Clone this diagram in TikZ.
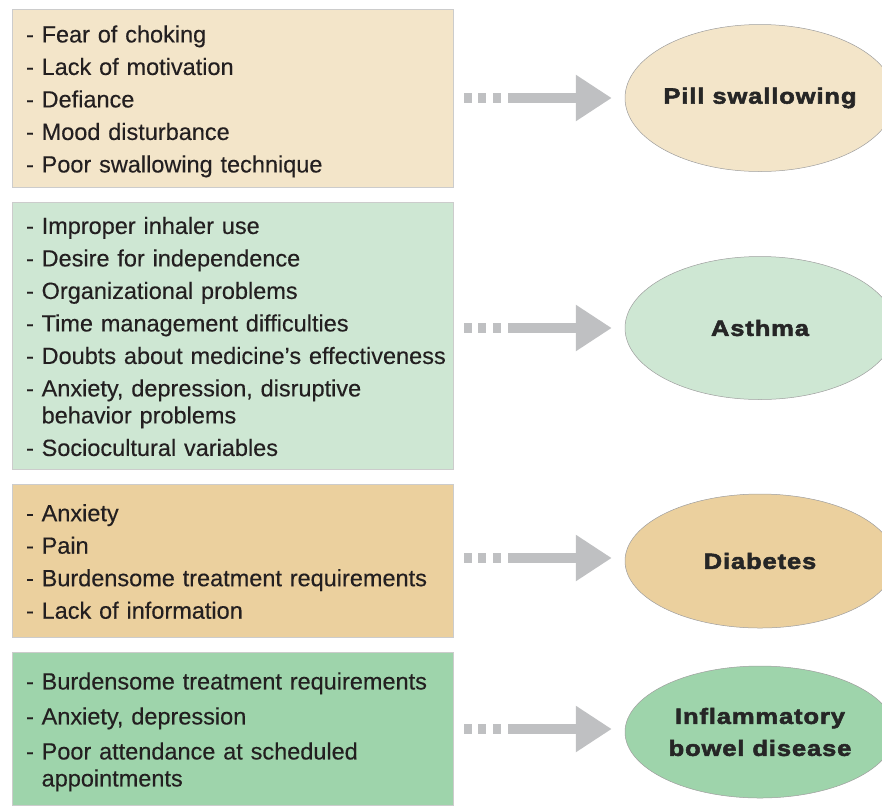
\documentclass[tikz,border=0pt]{standalone}
\usepackage{fontspec}
\setmainfont{Liberation Sans}[FakeBold=0.3]
\newfontfamily\heavyfont{Liberation Sans Bold}[FakeBold=2.4,FakeStretch=1.16,LetterSpace=4]
\usetikzlibrary{arrows.meta,shapes.geometric}

\definecolor{pillfill}{HTML}{F3E5C9}
\definecolor{asthmafill}{HTML}{CEE7D3}
\definecolor{diabfill}{HTML}{EBD09E}
\definecolor{ibdfill}{HTML}{9ED4AB}
\definecolor{arrowgrey}{HTML}{BFC0C2}
\definecolor{inktext}{HTML}{231F20}

% list of causes, one row per line
\newcommand{\causelist}[1]{\begin{tabular}{@{}l@{}}\rule{0pt}{27pt}#1\end{tabular}}

\begin{document}
\begin{tikzpicture}[x=1pt,y=-1pt]
  \tikzstyle{causebox}=[draw=black!20,line width=0.6pt,text=inktext,minimum width=441pt,text width=413pt,inner xsep=14pt,align=left,font=\fontsize{23.5}{27}\selectfont]
  \tikzstyle{illness}=[draw=black!38,line width=0.5pt,text=black!85,ellipse,minimum width=270pt,inner xsep=-40pt,inner ysep=0pt,align=center,font=\heavyfont\fontsize{22}{32}\selectfont]
  \tikzstyle{flow}=[draw=arrowgrey,line width=10pt,-{Triangle[length=36pt,width=44pt]},dash pattern=on 8pt off 6pt on 8pt off 7pt on 8pt off 7pt on 400pt,shorten <=11pt,shorten >=13pt]

  \useasboundingbox (0,0) rectangle (882,807);

  \node[causebox,fill=pillfill,minimum height=178pt] (B1) at (232.5,98)
    {\causelist{- Fear of choking\\[5.5pt] - Lack of motivation\\[5.5pt] - Defiance\\[5.5pt] - Mood disturbance\\[5.5pt] - Poor swallowing technique}};
  \node[causebox,fill=asthmafill,minimum height=267pt] (B2) at (232.5,335.5)
    {\causelist{- Improper inhaler use\\[5.5pt] - Desire for independence\\[5.5pt] - Organizational problems\\[5.5pt] - Time management difficulties\\[5.5pt] - Doubts about medicine’s effectiveness\\[5.5pt] - Anxiety, depression, disruptive\\ \hphantom{- }behavior problems\\[5.5pt] - Sociocultural variables}};
  \node[causebox,fill=diabfill,minimum height=153pt] (B3) at (232.5,560.5)
    {\causelist{- Anxiety\\[5.5pt] - Pain\\[5.5pt] - Burdensome treatment requirements\\[5.5pt] - Lack of information}};
  \node[causebox,fill=ibdfill,minimum height=153pt] (B4) at (232.5,728.5)
    {\causelist{- Burdensome treatment requirements\\[8pt] - Anxiety, depression\\[8pt] - Poor attendance at scheduled\\ \hphantom{- }appointments}};

  \node[illness,fill=pillfill,minimum height=147pt] (D1) at (760,98) {Pill swallowing};
  \node[illness,fill=asthmafill,minimum height=143pt] (D2) at (760,328) {Asthma};
  \node[illness,fill=diabfill,minimum height=134pt] (D3) at (760,561) {Diabetes};
  \node[illness,fill=ibdfill,minimum height=132pt] (D4) at (760,732) {Inflammatory\\bowel disease};

  \path (B1.east |- D1) edge[flow] (D1);
  \path (B2.east |- D2) edge[flow] (D2);
  \path (B3.east |- 0,558) edge[flow] (D3.west |- 0,558);
  \path (B4.east |- 0,729) edge[flow] (D4.west |- 0,729);

\end{tikzpicture}
\end{document}
